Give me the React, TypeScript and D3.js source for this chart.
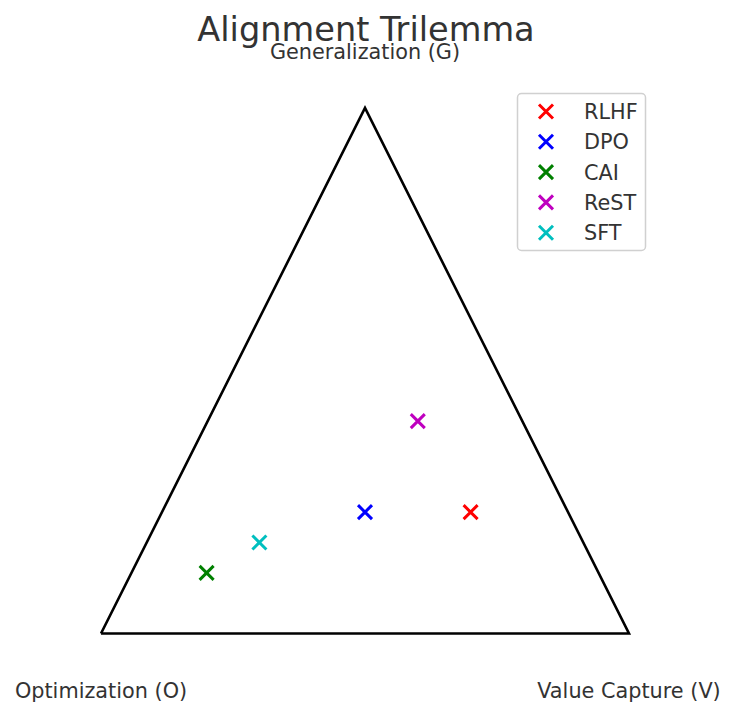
import React, { useEffect, useRef } from 'react';
import * as d3 from 'd3';

const methods = ['RLHF', 'DPO', 'CAI', 'ReST', 'SFT'];
const xValues = [0.7, 0.5, 0.2, 0.6, 0.3];
const yValues = [0.2, 0.2, 0.1, 0.35, 0.15];
const methodColors = ['#ff0000', '#0000ff', '#008000', '#bf00bf', '#00bfbf'];

const cornerNames = ['Optimization (O)', 'Value Capture (V)', 'Generalization (G)'];
const cornerX = [0, 1, 0.5];
const cornerY = [0, 0, Math.sqrt(3) / 2];

const W = 736, H = 717;
const FONT = 'DejaVu Sans, sans-serif';
const TXT = '#333333';
const FS = 20.8;

export default function App() {
  const ref = useRef<SVGSVGElement>(null);

  useEffect(() => {
    const svg = d3.select(ref.current);
    svg.selectAll('*').remove();

    const x = d3.scaleLinear().domain([0, 1]).range([101, 629]);
    const y = d3.scaleLinear().domain([0, Math.sqrt(3) / 2]).range([633.5, 108]);

    svg.append('rect').attr('width', W).attr('height', H).attr('fill', '#fff');

    // triangle
    const pts: [number, number][] = cornerX.map((cx, i) => [x(cx), y(cornerY[i])]);
    svg.append('path')
      .attr('d', d3.line()([...pts, pts[0]]))
      .attr('fill', 'none')
      .attr('stroke', '#000')
      .attr('stroke-width', 2.6)
      .attr('stroke-linejoin', 'miter');

    // corner labels
    const labelPos = [
      [x(cornerX[0]), 698],
      [x(cornerX[1]), 698],
      [x(cornerX[2]), 59],
    ];
    cornerNames.forEach((n, i) => {
      svg.append('text')
        .attr('x', labelPos[i][0])
        .attr('y', labelPos[i][1])
        .attr('text-anchor', 'middle')
        .attr('font-family', FONT)
        .attr('font-size', FS)
        .attr('fill', TXT)
        .text(n);
    });

    // title
    svg.append('text')
      .attr('x', 366)
      .attr('y', 41)
      .attr('text-anchor', 'middle')
      .attr('font-family', FONT)
      .attr('font-size', 33.6)
      .attr('fill', TXT)
      .text('Alignment Trilemma');

    const cross = (g: any, cx: number, cy: number, col: string) => {
      const s = 7;
      g.append('path')
        .attr('d', `M${cx - s},${cy - s}L${cx + s},${cy + s}M${cx - s},${cy + s}L${cx + s},${cy - s}`)
        .attr('stroke', col)
        .attr('stroke-width', 3)
        .attr('fill', 'none');
    };

    // points
    const pg = svg.append('g');
    methods.forEach((m, i) => cross(pg, x(xValues[i]), y(yValues[i]), methodColors[i]));

    // legend
    const lg = svg.append('g');
    lg.append('rect')
      .attr('x', 517.5).attr('y', 93.5)
      .attr('width', 128).attr('height', 157)
      .attr('rx', 4)
      .attr('fill', '#fff')
      .attr('fill-opacity', 0.8)
      .attr('stroke', '#d0d0d0')
      .attr('stroke-width', 1.5);
    methods.forEach((m, i) => {
      const ry = 111.5 + i * 30.3;
      cross(lg, 546, ry, methodColors[i]);
      lg.append('text')
        .attr('x', 584)
        .attr('y', ry + 7.5)
        .attr('font-family', FONT)
        .attr('font-size', FS)
        .attr('fill', TXT)
        .text(m);
    });
  }, []);

  return <svg ref={ref} width={W} height={H} style={{ display: 'block', margin: -8 }} />;
}
